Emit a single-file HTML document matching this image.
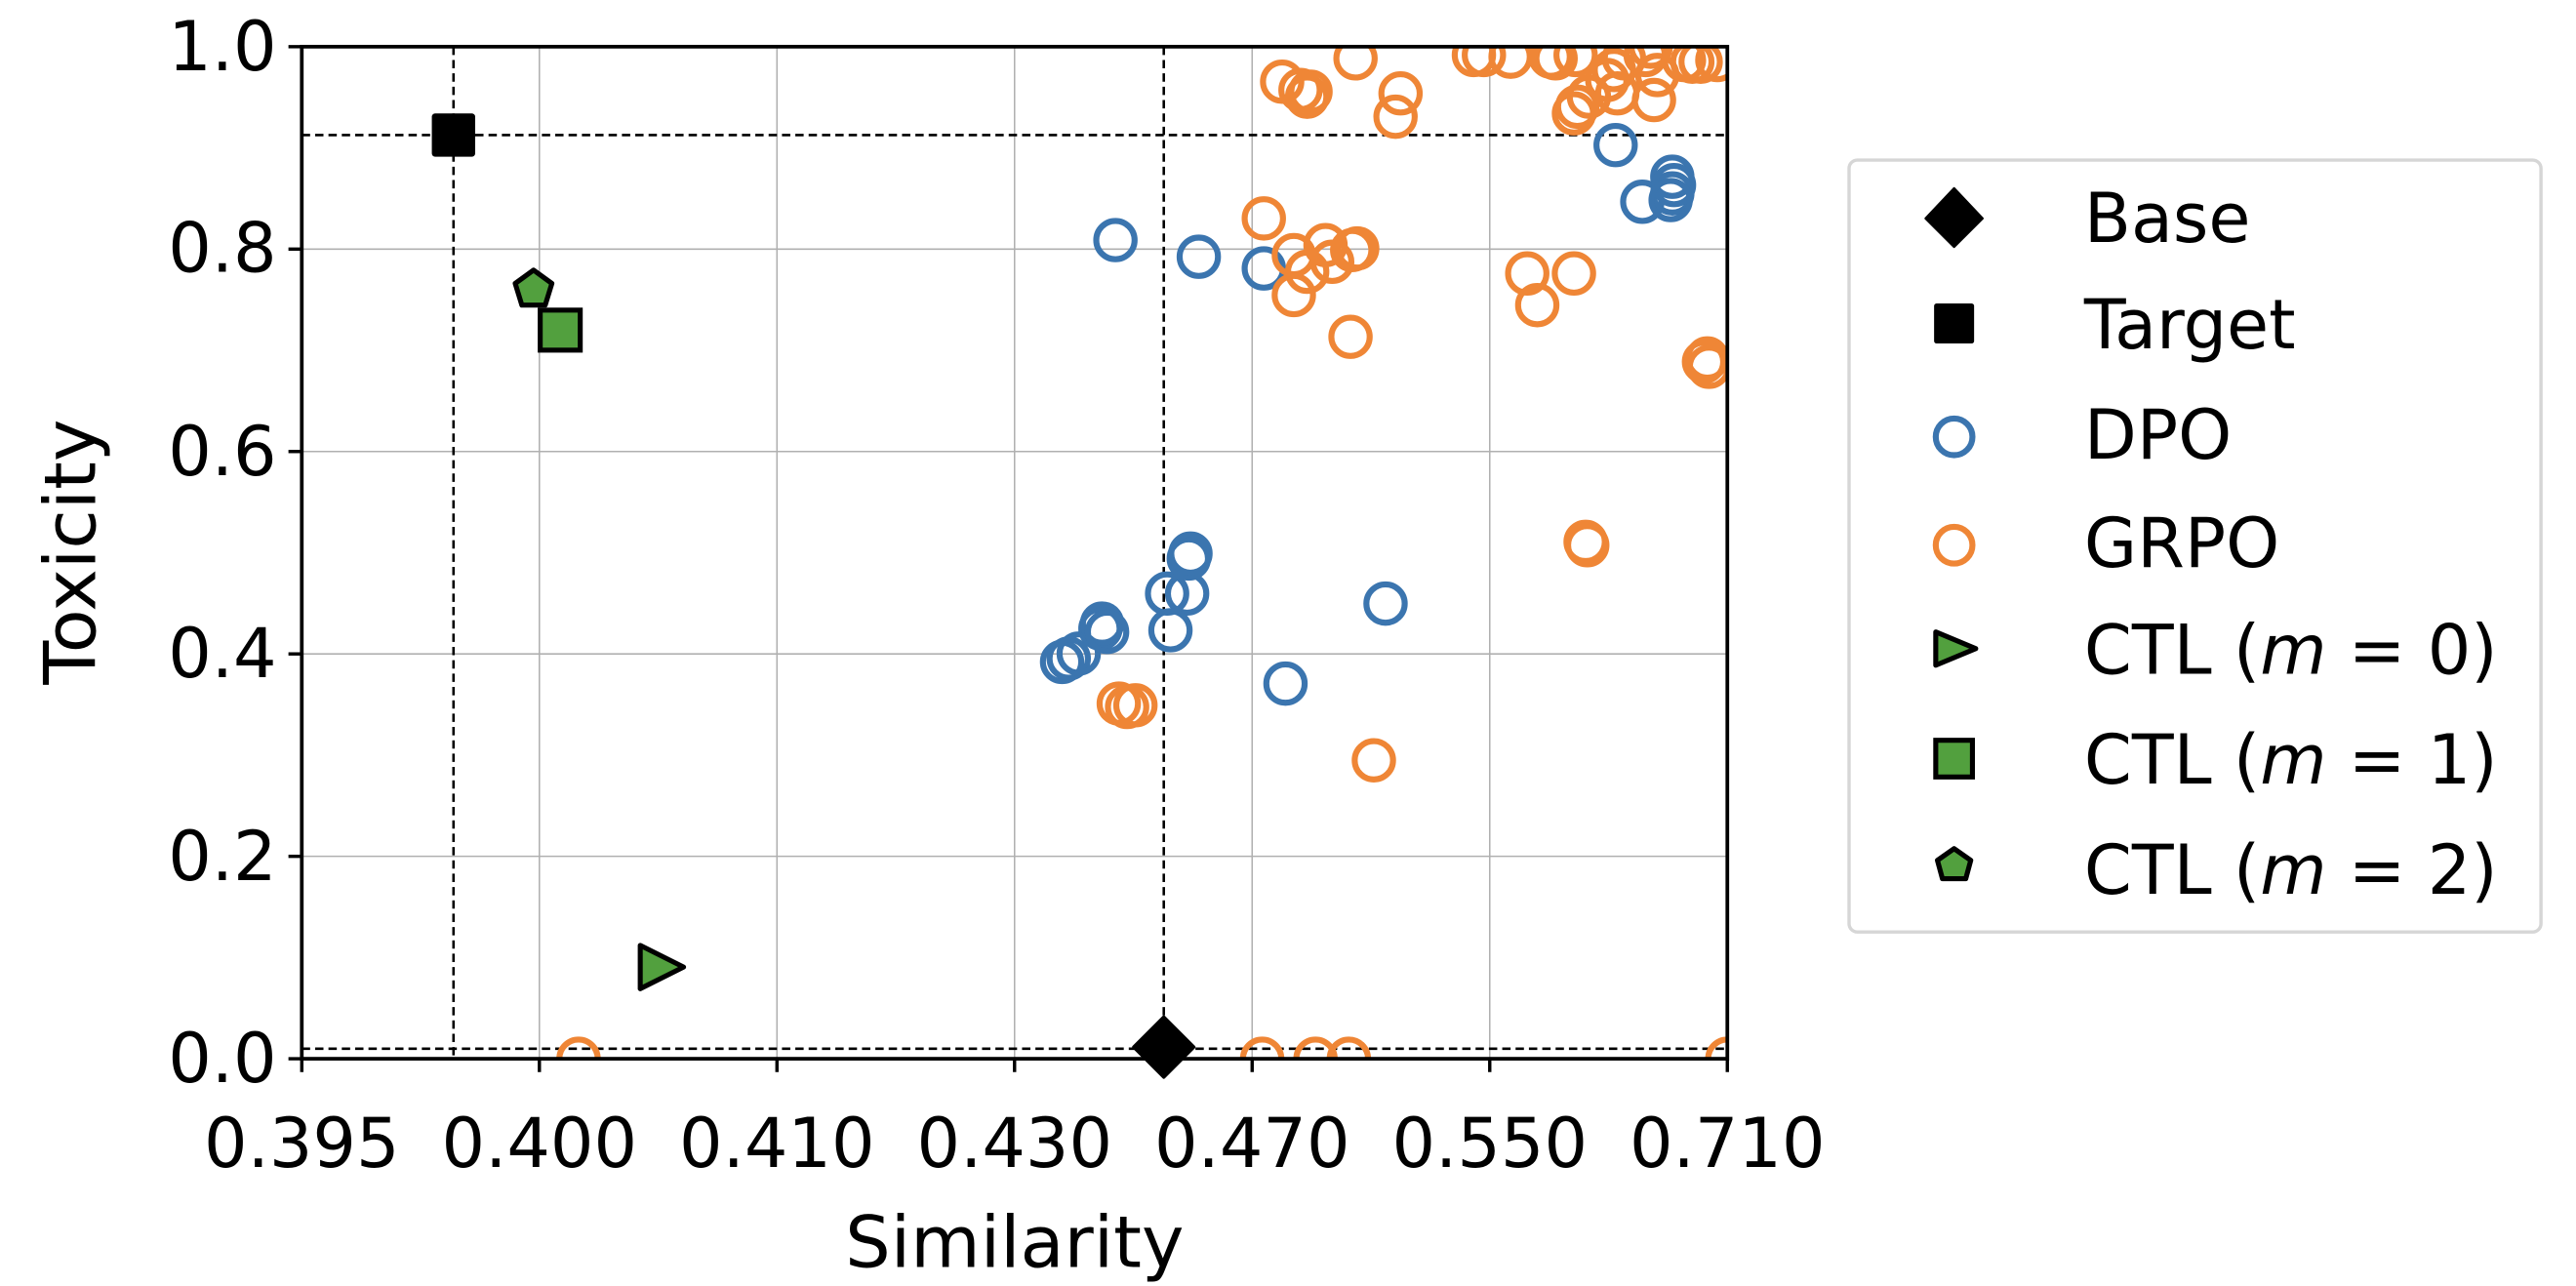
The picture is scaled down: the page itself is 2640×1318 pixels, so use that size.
<!DOCTYPE html>
<html><head><meta charset="utf-8"><style>
html,body{margin:0;padding:0;background:#fff;}
svg{display:block;}
text{font-family:"DejaVu Sans","Liberation Sans",sans-serif;fill:#000;}
</style></head><body>
<svg width="2640" height="1318" viewBox="0 0 1545 771.3" preserveAspectRatio="none" xmlns="http://www.w3.org/2000/svg">
<defs><clipPath id="c"><rect x="181" y="28" width="855" height="607"/></clipPath></defs>
<rect width="1545" height="771.3" fill="#fff"/>
<g stroke="#b0b0b0" stroke-width="0.9">
<line x1="323.5" y1="28" x2="323.5" y2="635"/><line x1="466" y1="28" x2="466" y2="635"/><line x1="608.5" y1="28" x2="608.5" y2="635"/><line x1="751" y1="28" x2="751" y2="635"/><line x1="893.5" y1="28" x2="893.5" y2="635"/>
<line x1="181" y1="513.6" x2="1036" y2="513.6"/><line x1="181" y1="392.2" x2="1036" y2="392.2"/><line x1="181" y1="270.8" x2="1036" y2="270.8"/><line x1="181" y1="149.4" x2="1036" y2="149.4"/>
</g>
<g stroke="#000" stroke-width="1.5" stroke-dasharray="5,3">
<line x1="272" y1="28" x2="272" y2="635"/><line x1="181" y1="81" x2="1036" y2="81"/>
<line x1="698" y1="28" x2="698" y2="635"/><line x1="181" y1="629" x2="1036" y2="629"/>
</g>
<g clip-path="url(#c)" fill="none" stroke-width="3.6">
<g stroke="#3b75af">
<circle cx="669" cy="144" r="11.5"/><circle cx="719" cy="154" r="11.5"/><circle cx="758" cy="161" r="11.5"/><circle cx="969" cy="87" r="11.5"/><circle cx="985" cy="121" r="11.5"/><circle cx="1003" cy="106" r="11.5"/><circle cx="1003" cy="116" r="11.5"/><circle cx="1004" cy="111" r="11.5"/><circle cx="1002" cy="120" r="11.5"/>
<circle cx="637" cy="397" r="11.5"/><circle cx="641" cy="395" r="11.5"/><circle cx="647" cy="392" r="11.5"/><circle cx="660" cy="377" r="11.5"/><circle cx="661" cy="374" r="11.5"/><circle cx="664" cy="379" r="11.5"/><circle cx="700" cy="356" r="11.5"/><circle cx="712" cy="356" r="11.5"/><circle cx="713" cy="335" r="11.5"/><circle cx="714" cy="332" r="11.5"/><circle cx="702" cy="378" r="11.5"/><circle cx="771" cy="410" r="11.5"/><circle cx="831" cy="362" r="11.5"/>
</g>
<g stroke="#ef8636">
<circle cx="347" cy="635" r="11.5"/><circle cx="757" cy="635" r="11.5"/><circle cx="789" cy="635" r="11.5"/><circle cx="809" cy="635" r="11.5"/><circle cx="1036" cy="635" r="11.5"/>
<circle cx="671" cy="422" r="11.5"/><circle cx="676" cy="424" r="11.5"/><circle cx="681" cy="423" r="11.5"/><circle cx="824" cy="456" r="11.5"/>
<circle cx="951" cy="325" r="11.5"/><circle cx="952" cy="327" r="11.5"/>
<circle cx="1024" cy="215" r="11.5"/><circle cx="1025" cy="220" r="11.5"/><circle cx="1022" cy="217" r="11.5"/>
<circle cx="944" cy="164" r="11.5"/><circle cx="922" cy="183" r="11.5"/><circle cx="916" cy="164" r="11.5"/>
<circle cx="758" cy="131" r="11.5"/><circle cx="776" cy="177" r="11.5"/><circle cx="776" cy="153" r="11.5"/><circle cx="784" cy="163" r="11.5"/><circle cx="795" cy="147" r="11.5"/><circle cx="799" cy="157" r="11.5"/><circle cx="811" cy="150" r="11.5"/><circle cx="814" cy="149" r="11.5"/><circle cx="810" cy="202" r="11.5"/>
<circle cx="769" cy="49" r="11.5"/><circle cx="780" cy="54" r="11.5"/><circle cx="784" cy="58" r="11.5"/><circle cx="786" cy="55" r="11.5"/><circle cx="813" cy="35" r="11.5"/><circle cx="840" cy="56" r="11.5"/><circle cx="837" cy="70" r="11.5"/>
<circle cx="884" cy="33" r="11.5"/><circle cx="890" cy="33" r="11.5"/><circle cx="906" cy="34" r="11.5"/><circle cx="930" cy="34" r="11.5"/><circle cx="933" cy="35" r="11.5"/><circle cx="945" cy="33" r="11.5"/>
<circle cx="953" cy="58" r="11.5"/><circle cx="944" cy="68" r="11.5"/><circle cx="946" cy="64" r="11.5"/><circle cx="964" cy="48" r="11.5"/><circle cx="968" cy="42" r="11.5"/><circle cx="974" cy="35" r="11.5"/><circle cx="990" cy="28" r="11.5"/><circle cx="994" cy="45" r="11.5"/><circle cx="992" cy="60" r="11.5"/><circle cx="970" cy="56" r="11.5"/><circle cx="987" cy="33" r="11.5"/>
<circle cx="1010" cy="36" r="11.5"/><circle cx="1015" cy="37" r="11.5"/><circle cx="1020" cy="37" r="11.5"/><circle cx="1030" cy="36" r="11.5"/>
</g>
</g>
<rect x="259" y="68" width="26" height="26" rx="2" fill="#000"/>
<polygon points="698,610 716,628 698,646 680,628" fill="#000" stroke="#000" stroke-width="2" stroke-linejoin="round"/>
<polygon points="384,567 410,580 384,593" fill="#52a03e" stroke="#000" stroke-width="3" stroke-linejoin="round"/>
<rect x="324" y="186" width="24" height="24" fill="#52a03e" stroke="#000" stroke-width="3"/>
<polygon points="320,162 331,170 327,183 313,183 309,170" fill="#52a03e" stroke="#000" stroke-width="3" stroke-linejoin="round"/>
<rect x="181" y="28" width="855" height="607" fill="none" stroke="#000" stroke-width="2.2"/>
<g stroke="#000" stroke-width="2">
<line x1="181" y1="635" x2="181" y2="643"/><line x1="323.5" y1="635" x2="323.5" y2="643"/><line x1="466" y1="635" x2="466" y2="643"/><line x1="608.5" y1="635" x2="608.5" y2="643"/><line x1="751" y1="635" x2="751" y2="643"/><line x1="893.5" y1="635" x2="893.5" y2="643"/><line x1="1036" y1="635" x2="1036" y2="643"/>
<line x1="173" y1="635" x2="181" y2="635"/><line x1="173" y1="513.6" x2="181" y2="513.6"/><line x1="173" y1="392.2" x2="181" y2="392.2"/><line x1="173" y1="270.8" x2="181" y2="270.8"/><line x1="173" y1="149.4" x2="181" y2="149.4"/><line x1="173" y1="28" x2="181" y2="28"/>
</g>
<g font-size="41" text-anchor="middle">
<text x="181" y="700">0.395</text><text x="323.5" y="700">0.400</text><text x="466" y="700">0.410</text><text x="608.5" y="700">0.430</text><text x="751" y="700">0.470</text><text x="893.5" y="700">0.550</text><text x="1036" y="700">0.710</text>
</g>
<g font-size="41" text-anchor="end">
<text x="166" y="649">0.0</text><text x="166" y="528">0.2</text><text x="166" y="406">0.4</text><text x="166" y="285">0.6</text><text x="166" y="163">0.8</text><text x="166" y="42">1.0</text>
</g>
<text x="608.5" y="760" font-size="43" text-anchor="middle">Similarity</text>
<text transform="translate(57,331) rotate(-90)" font-size="43" text-anchor="middle">Toxicity</text>
<rect x="1109" y="96" width="415" height="463" rx="5" fill="#fff" stroke="#d6d6d6" stroke-width="2"/>
<polygon points="1172,113 1189,131 1172,148 1155,131" fill="#000" stroke="#000" stroke-width="1.5" stroke-linejoin="round"/>
<rect x="1160" y="182" width="24" height="24" rx="1.5" fill="#000"/>
<circle cx="1172" cy="262" r="11" fill="none" stroke="#3b75af" stroke-width="3.6"/>
<circle cx="1172" cy="327" r="11" fill="none" stroke="#ef8636" stroke-width="3.6"/>
<polygon points="1161,379 1185,389 1161,399" fill="#52a03e" stroke="#000" stroke-width="3" stroke-linejoin="round"/>
<rect x="1161" y="444" width="22" height="22" fill="#52a03e" stroke="#000" stroke-width="3"/>
<polygon points="1172,509 1182,516 1179,527 1165,527 1162,516" fill="#52a03e" stroke="#000" stroke-width="3" stroke-linejoin="round"/>
<g font-size="41">
<text x="1250" y="145">Base</text>
<text x="1250" y="209">Target</text>
<text x="1250" y="275">DPO</text>
<text x="1250" y="340">GRPO</text>
<text x="1250" y="404">CTL (<tspan font-style="italic">m</tspan> = 0)</text>
<text x="1250" y="470">CTL (<tspan font-style="italic">m</tspan> = 1)</text>
<text x="1250" y="536">CTL (<tspan font-style="italic">m</tspan> = 2)</text>
</g>
</svg>
</body></html>
